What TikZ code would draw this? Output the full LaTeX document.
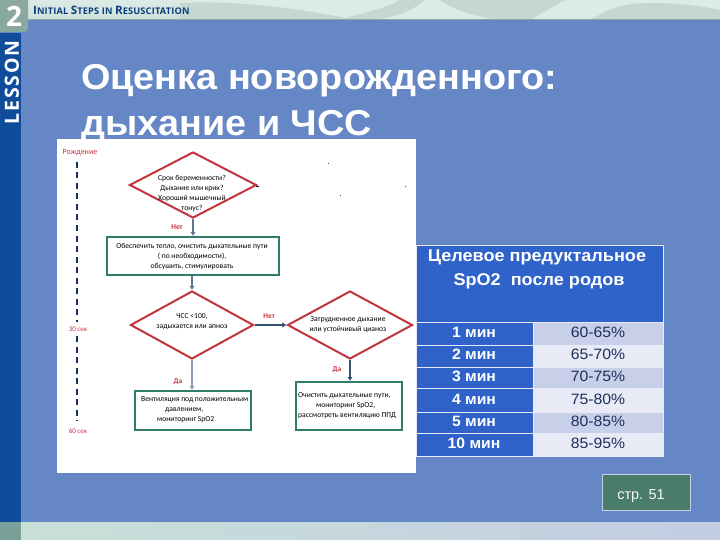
\documentclass[tikz,border=0pt]{standalone}
\usepackage{fontspec}
\setmainfont{Liberation Sans}
\newfontfamily\smallfont{Carlito}
\newfontfamily\brandfont{Open Sans}
\usetikzlibrary{shapes.geometric,arrows.meta}
\definecolor{bgblue}{HTML}{6687C6}
\definecolor{navy}{HTML}{0F4C9A}
\definecolor{tealtile}{HTML}{8BA8A0}
\definecolor{tblue}{HTML}{2F63C9}
\definecolor{rowa}{HTML}{C8D0E9}
\definecolor{rowb}{HTML}{E8EAF5}
\definecolor{tink}{HTML}{1B2F5E}
\definecolor{dred}{HTML}{C23440}
\definecolor{bgreen}{HTML}{2F7D6B}
\definecolor{agray}{HTML}{5F7590}
\definecolor{adark}{HTML}{33506F}
\definecolor{pagegreen}{HTML}{4A7C6C}
\definecolor{footband}{HTML}{C3CDE3}
\definecolor{footleft}{HTML}{C8E0D8}
\definecolor{footcorner}{HTML}{7AA09A}
\definecolor{bandpale}{HTML}{DDEBE6}
\definecolor{bandmid}{HTML}{C4D8D1}
\definecolor{bandedge}{HTML}{8FA8A0}
\tikzset{
  dia/.style={diamond,draw=dred,line width=2pt,fill=white,inner sep=0pt},
  flowbox/.style={rectangle,draw=bgreen,line width=2pt,fill=white,inner sep=0pt},
  flowtxt/.style={font=\smallfont\fontsize{7.6}{10}\selectfont,text=black,align=center,inner sep=0pt},
  redtxt/.style={font=\smallfont\bfseries\fontsize{7.4}{9}\selectfont,text=dred,inner sep=0pt},
  timetxt/.style={font=\smallfont\fontsize{7}{8}\selectfont,text=dred,inner sep=0pt},
  timeline/.style={draw=tink,line width=1.3pt,dash pattern=on 6pt off 4.5pt},
  conn/.style={draw=#1,line width=2pt,-{Latex[length=4pt,width=5.5pt]}},
  hcell/.style={fill=tblue,draw=rowb,line width=0.6pt,minimum height=#1,inner sep=0pt},
  vcell/.style={draw=rowb,line width=0.6pt,minimum height=#1,inner sep=0pt},
  headtxt/.style={inner sep=0pt,text=white,font=\fontsize{17}{18}\selectfont\bfseries\addfontfeature{FakeStretch=1.064},anchor=base},
  keytxt/.style={inner sep=0pt,text=white,font=\fontsize{15}{16}\selectfont\bfseries\addfontfeature{FakeStretch=1.05}},
  valtxt/.style={inner sep=0pt,text=tink,font=\fontsize{15}{16}\selectfont\addfontfeature{FakeStretch=1.05}},
  titletxt/.style={inner sep=0pt,anchor=base west,text=white,font=\fontsize{36}{38}\selectfont\bfseries\addfontfeature{FakeStretch=1.05}},
  dot/.style={inner sep=0pt,minimum size=0.8pt,fill=black!70}
}
\begin{document}
\begin{tikzpicture}[x=1pt,y=-1pt]
\useasboundingbox (0,0) rectangle (720,540);
\fill[bgblue] (0,0) rectangle (720,540);
% header band with its pale cloud pattern
\begin{scope}
\clip (0,0) rectangle (720,20);
\fill[bandpale] (0,0) rectangle (720,20);
\fill[bandmid] (180,3) .. controls (230,0) and (300,8) .. (345,18) .. controls (370,12) and (390,6) .. (400,0) -- (425,0) .. controls (410,12) and (395,18) .. (370,20) -- (180,20) -- cycle;
\fill[bandmid] (440,0) .. controls (450,8) and (470,16) .. (500,20) -- (530,20) .. controls (545,12) and (555,5) .. (565,0) -- cycle;
\fill[bandmid] (590,20) .. controls (610,8) and (625,3) .. (650,3) .. controls (680,3) and (700,6) .. (720,10) -- (720,20) -- cycle;
\shade[top color=bandpale,bottom color=bandmid,opacity=0.5] (28,0) rectangle (180,20);
\fill[bandedge] (0,19) rectangle (720,20);
\end{scope}
% footer band
\shade[left color=footleft,right color=footband] (21,522) rectangle (720,540);
\fill[footcorner] (0,522) rectangle (21,540);
\fill[navy] (0,33) rectangle (21,522);
\fill[tealtile,rounded corners=4pt] (-6,-6) rectangle (28,32);
\node[inner sep=0pt,text=white,font=\brandfont\bfseries\fontsize{28}{30}\selectfont] (lessonnum) at (14,16) {2};
\node[inner sep=0pt,text=white,rotate=90,font=\brandfont\bfseries\fontsize{19.5}{20}\selectfont\addfontfeature{LetterSpace=9}] (lesson) at (12,82.5) {LESSON};
\node[inner sep=0pt,anchor=west,text=navy!80!black,font=\brandfont\bfseries\fontsize{9.2}{9}\selectfont\addfontfeature{LetterSpace=2}] (chapter) at (33,10.5)
  {{\fontsize{11.6}{9}\selectfont\addfontfeature{LetterSpace=2}I}NITIAL {\fontsize{11.6}{9}\selectfont\addfontfeature{LetterSpace=2}S}TEPS IN {\fontsize{11.6}{9}\selectfont\addfontfeature{LetterSpace=2}R}ESUSCITATION};
% title
\node[titletxt] (title1) at (81,89.5) {Оценка новорожденного:};
\node[titletxt] (title2) at (81,136) {дыхание и ЧСС};
% flowchart panel
\fill[white] (57,139) rectangle (416,473);
\node[dia,minimum width=127pt,minimum height=66pt] (d1) at (193,185) {};
\node[dia,minimum width=123pt,minimum height=68pt] (d2) at (192,325) {};
\node[dia,minimum width=125pt,minimum height=68pt] (d3) at (350,325) {};
\node[flowbox,minimum width=172pt,minimum height=38pt] (b1) at (193,256) {};
\node[flowbox,minimum width=116pt,minimum height=39pt] (b2) at (193,410.5) {};
\node[flowbox,minimum width=106pt,minimum height=48pt] (b3) at (349,406) {};
\draw[conn=agray] (d1.south) -- (d1.south |- b1.north);
\draw[conn=agray] (b1.south -| d2.north) -- (d2.north);
\draw[conn=adark] (d2) -- (d3);
\draw[conn=agray!70] (d2.south) -- (d2.south |- b2.north);
\draw[conn=adark] (d3.south) -- (d3.south |- b3.north);
\node[flowtxt] (t1) at (192,194) {Срок беременности?\\Дыхание или крик?\\Хороший мышечный\\тонус?};
\node[flowtxt] (t2) at (192,256.5) {Обеспечить тепло, очистить дыхательные пути\\( по необходимости),\\обсушить, стимулировать};
\node[flowtxt] (t3) at (192,322) {ЧСС <100,\\задыхается или апноэ};
\node[flowtxt] (t4) at (348,325) {Затрудненное дыхание\\или устойчивый цианоз};
\node[flowtxt,align=left,anchor=west] (t5) at (141,409.5) {Вентиляция под положительным\\\hspace*{24pt}давлением,\\\hspace*{16pt}{\fontsize{7.6}{10}\selectfont мониторинг SpO2}};
\node[flowtxt,align=left,anchor=west] (t6) at (298,405.5) {Очистить дыхательные пути,\\\hspace*{18pt}мониторинг SpO2,\\рассмотреть вентиляцию ППД};
\node[redtxt] (net1) at (177,227) {Нет};
\node[redtxt] (net2) at (269,316) {Нет};
\node[redtxt] (da1) at (178,382) {Да};
\node[redtxt] (da2) at (337,370) {Да};
% timeline
\node[redtxt,font=\smallfont\fontsize{8}{9}\selectfont] (born) at (80,153) {Рождение};
\node[timetxt] (s30) at (78,329) {30 сек};
\node[timetxt] (s60) at (78,431) {60 сек};
\coordinate (tl1) at (77,162);
\coordinate (tl2) at (77,322);
\coordinate (tl3) at (77,336);
\coordinate (tl4) at (77,421);
\draw[timeline] (tl1) -- (tl2);
\draw[timeline] (tl3) -- (tl4);
% stray marks of the scan
\fill[black] (256,186.5) rectangle (258.5,187.5);
\node[dot] (sp1) at (328,163) {};
\node[dot] (sp2) at (340,195) {};
\node[dot] (sp3) at (405,186) {};
% table
\node[hcell=77pt,minimum width=247pt,anchor=north west] (th) at (416,245) {};
\node[headtxt] (th1) at (537,261) {Целевое предуктальное};
\node[headtxt] (th2) at (539,285) {SpO2\ \ после родов};
\foreach \y/\h/\t/\a/\b/\c [count=\i] in {322/23/332/1 мин/60-65\%/rowa,345/22/354/2 мин/65-70\%/rowb,367/21/376/3 мин/70-75\%/rowa,388/24/399/4 мин/75-80\%/rowb,412/21/421/5 мин/80-85\%/rowa,433/23/443/10 мин/85-95\%/rowb}{
  \node[hcell=\h pt,minimum width=117pt,anchor=north west] (l\i) at (416,\y) {};
  \node[vcell=\h pt,fill=\c,minimum width=130pt,anchor=north west] (r\i) at (533,\y) {};
  \node[keytxt] (lt\i) at (474,\t) {\a};
  \node[valtxt] (rt\i) at (598,\t) {\b};
}
% page tag
\node[draw=rowa,line width=0.7pt,fill=pagegreen,minimum width=88pt,minimum height=36pt,inner sep=0pt,anchor=north west] (pg) at (602,473.5) {};
\node[inner sep=0pt,text=white!90!rowa,font=\fontsize{14.5}{15}\selectfont] (pgt) at (641,496) {стр. 51};
\end{tikzpicture}
\end{document}
